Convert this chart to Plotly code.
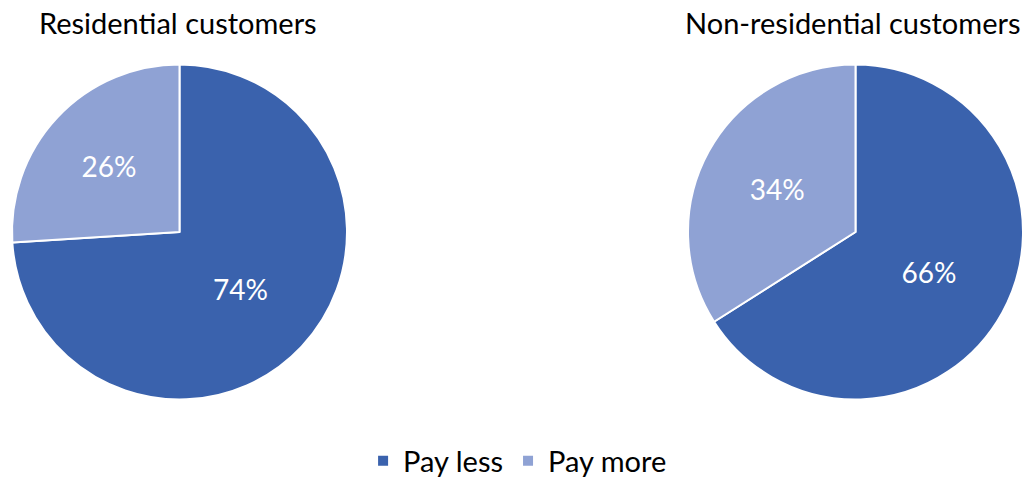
import plotly.graph_objects as go

W, H = 1029, 477
labels = ["Pay less", "Pay more"]
residential = [74, 26]
non_residential = [66, 34]
titles = ["Residential customers", "Non-residential customers"]
colors = ["#3A62AD", "#8FA2D4"]
FONT = "Lato"

def px_dom(x0, x1, y0, y1):
    return dict(x=[x0 / W, x1 / W], y=[1 - y1 / H, 1 - y0 / H])

fig = go.Figure()
for vals, dom, show in [(residential, px_dom(12, 347, 64, 400), True),
                        (non_residential, px_dom(688, 1023, 64, 400), False)]:
    fig.add_trace(go.Pie(
        labels=labels, values=vals, sort=False, direction="clockwise", rotation=0,
        marker=dict(colors=colors, line=dict(color="white", width=2)),
        texttemplate="%{value}%", textposition="inside",
        insidetextorientation="horizontal",
        textfont=dict(color="white", size=28, family=FONT),
        domain=dom, showlegend=show, hoverinfo="label+percent",
    ))

for t, cx in zip(titles, [178, 852]):
    fig.add_annotation(text=t, x=cx / W, y=1 - 22 / H, xref="paper", yref="paper",
                       showarrow=False, xanchor="center", yanchor="middle",
                       font=dict(size=29, color="black", family=FONT))

fig.update_layout(
    width=W, height=H, margin=dict(l=0, r=0, t=0, b=0, autoexpand=False),
    paper_bgcolor="white", plot_bgcolor="white",
    font=dict(family=FONT, color="black"),
    legend=dict(orientation="h", x=0.503, xanchor="center", y=1 - 461 / H, yanchor="middle",
                font=dict(size=29, family=FONT, color="black"), itemwidth=30),
)
fig.write_html("out.html", config={"displayModeBar": False},
               post_script="document.body.style.margin='0';")
